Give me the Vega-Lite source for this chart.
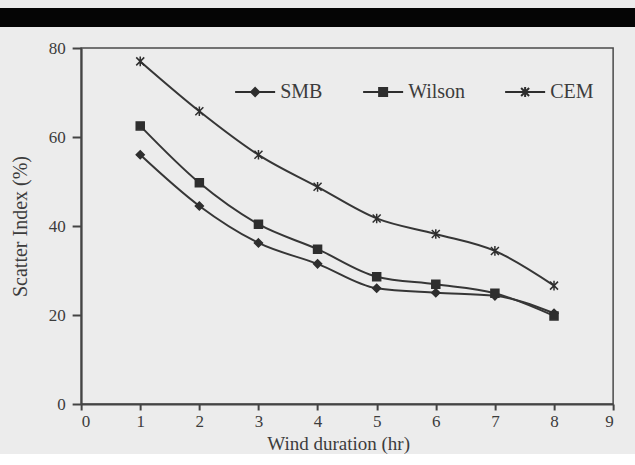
{
  "$schema": "https://vega.github.io/schema/vega-lite/v6.json",
  "background": "#ececec",
  "padding": {"left": 0, "right": 0, "top": 8, "bottom": 0},
  "spacing": 11,
  "center": true,
  "config": {"font": "Liberation Serif", "view": {"stroke": null}},
  "vconcat": [
    {
      "width": 696,
      "height": 19,
      "data": {"values": []},
      "mark": "point",
      "view": {"fill": "#050505", "stroke": null}
    },
    {
      "width": 532,
      "height": 356,
      "view": {"stroke": "#4a4a4a", "strokeWidth": 1.5},
      "data": {
        "values": [
          {"duration": 1, "method": "SMB", "si": 56},
          {"duration": 2, "method": "SMB", "si": 44.5},
          {"duration": 3, "method": "SMB", "si": 36.2},
          {"duration": 4, "method": "SMB", "si": 31.5},
          {"duration": 5, "method": "SMB", "si": 26},
          {"duration": 6, "method": "SMB", "si": 25},
          {"duration": 7, "method": "SMB", "si": 24.3},
          {"duration": 8, "method": "SMB", "si": 20.4},
          {"duration": 1, "method": "Wilson", "si": 62.5},
          {"duration": 2, "method": "Wilson", "si": 49.7},
          {"duration": 3, "method": "Wilson", "si": 40.4},
          {"duration": 4, "method": "Wilson", "si": 34.8},
          {"duration": 5, "method": "Wilson", "si": 28.6},
          {"duration": 6, "method": "Wilson", "si": 26.9},
          {"duration": 7, "method": "Wilson", "si": 24.9},
          {"duration": 8, "method": "Wilson", "si": 19.8},
          {"duration": 1, "method": "CEM", "si": 77},
          {"duration": 2, "method": "CEM", "si": 65.8},
          {"duration": 3, "method": "CEM", "si": 56},
          {"duration": 4, "method": "CEM", "si": 48.8},
          {"duration": 5, "method": "CEM", "si": 41.7},
          {"duration": 6, "method": "CEM", "si": 38.2},
          {"duration": 7, "method": "CEM", "si": 34.4},
          {"duration": 8, "method": "CEM", "si": 26.6}
        ]
      },
      "encoding": {
        "x": {
          "field": "duration",
          "type": "quantitative",
          "scale": {"domain": [0, 9], "nice": false},
          "axis": {
            "title": "Wind duration (hr)",
            "titleX": 257,
            "values": [0, 1, 2, 3, 4, 5, 6, 7, 8, 9],
            "grid": false,
            "domainColor": "#444444",
            "domainWidth": 2,
            "tickColor": "#444444",
            "tickWidth": 2,
            "tickSize": 6,
            "labelPadding": 3,
            "labelFontSize": 17,
            "labelColor": "#3c3c3c",
            "labelFont": "Liberation Serif",
            "titleFont": "Liberation Serif",
            "titleFontSize": 19,
            "titleFontWeight": "normal",
            "titleColor": "#3c3c3c",
            "titlePadding": 5
          }
        },
        "y": {
          "field": "si",
          "type": "quantitative",
          "scale": {"domain": [0, 80], "nice": false},
          "axis": {
            "title": "Scatter Index (%)",
            "values": [0, 20, 40, 60, 80],
            "grid": false,
            "domainColor": "#444444",
            "domainWidth": 2,
            "tickColor": "#444444",
            "tickWidth": 2,
            "tickSize": 9,
            "labelPadding": 7,
            "labelFontSize": 17,
            "labelColor": "#3c3c3c",
            "labelFont": "Liberation Serif",
            "titleFont": "Liberation Serif",
            "titleFontSize": 20,
            "titleFontWeight": "normal",
            "titleColor": "#3c3c3c",
            "titlePadding": 18
          }
        }
      },
      "layer": [
        {
          "mark": {"type": "line", "interpolate": "monotone", "color": "#363636", "strokeWidth": 2},
          "encoding": {"detail": {"field": "method", "type": "nominal"}}
        },
        {
          "mark": {"type": "point", "fill": "#2e2e2e", "stroke": "#2e2e2e", "strokeWidth": 1.5, "opacity": 1, "size": 64},
          "encoding": {
            "shape": {
              "field": "method",
              "type": "nominal",
              "scale": {
                "domain": ["SMB", "Wilson", "CEM"],
                "range": ["M0,-1L1,0L0,1L-1,0Z", "square", "M-1,-1L1,1M-1,1L1,-1M0,-1.2L0,1.2"]
              },
              "legend": null
            }
          }
        },
        {
          "transform": [{"filter": "datum.duration < 0"}],
          "mark": {"type": "point", "color": "#2e2e2e", "strokeWidth": 2, "opacity": 1},
          "encoding": {
            "shape": {
              "field": "method",
              "type": "nominal",
              "scale": {
                "domain": ["SMB", "Wilson", "CEM"],
                "range": [
                  "M-1,0H1M0,-0.2L0.2,0L0,0.2L-0.2,0ZM0,-0.1L0.1,0L0,0.1L-0.1,0Z",
                  "M-1,0H1M-0.2,-0.2H0.2V0.2H-0.2ZM-0.1,-0.1H0.1V0.1H-0.1Z",
                  "M-1,0H1M-0.2,-0.2L0.2,0.2M-0.2,0.2L0.2,-0.2M0,-0.25V0.25"
                ]
              },
              "legend": {
                "title": null,
                "orient": "none",
                "direction": "horizontal",
                "legendX": 153,
                "legendY": 23,
                "padding": 0,
                "symbolSize": 1600,
                "symbolFillColor": "#2e2e2e",
                "symbolStrokeColor": "#2e2e2e",
                "symbolStrokeWidth": 2,
                "symbolOpacity": 1,
                "labelFont": "Liberation Serif",
                "labelFontSize": 20,
                "labelColor": "#3c3c3c",
                "labelOffset": 4,
                "columnPadding": 36
              }
            }
          }
        }
      ],
      "resolve": {"scale": {"shape": "independent"}}
    }
  ]
}
